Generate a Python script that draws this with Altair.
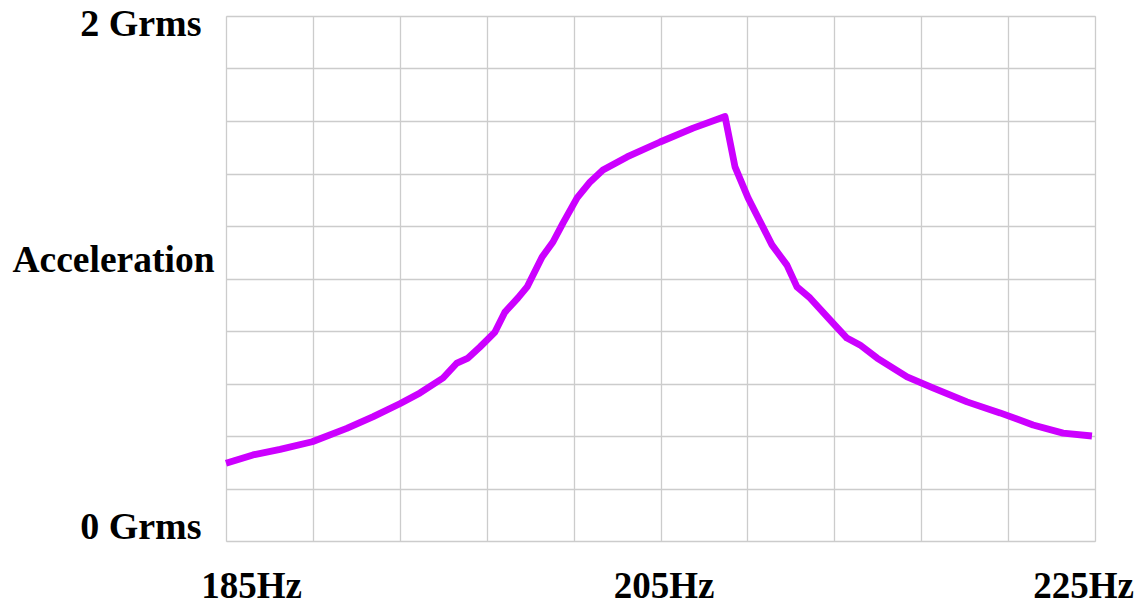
import altair as alt
import pandas as pd

# Frequency (Hz) and acceleration (Grms)
freq = [185.0, 186.24, 187.49, 188.97, 190.56, 191.78, 193.0, 193.93, 194.99,
        195.63, 196.14, 196.69, 197.38, 197.84, 198.44, 198.86, 199.55, 200.05,
        200.51, 201.16, 201.76, 202.35, 203.46, 204.98, 206.50, 207.97, 208.43,
        209.03, 210.13, 210.82, 211.28, 211.88, 212.94, 213.58, 214.18, 214.97,
        216.35, 217.54, 219.11, 220.63, 222.15, 223.53, 224.86]
accel = [0.296, 0.328, 0.349, 0.378, 0.429, 0.474, 0.523, 0.564, 0.621,
         0.678, 0.697, 0.739, 0.796, 0.872, 0.926, 0.968, 1.082, 1.139,
         1.211, 1.307, 1.368, 1.413, 1.463, 1.52, 1.573, 1.617, 1.425,
         1.307, 1.128, 1.051, 0.968, 0.926, 0.830, 0.773, 0.747, 0.697,
         0.625, 0.583, 0.530, 0.488, 0.442, 0.411, 0.40]

x_grid = [185, 189, 193, 197, 201, 205, 209, 213, 217, 221, 225]
y_grid = [0, 0.2, 0.4, 0.6, 0.8, 1.0, 1.2, 1.4, 1.6, 1.8, 2.0]
x_labels = {185: "185Hz", 205: "205Hz", 225: "225Hz"}
y_labels = {0: "0 Grms", 2: "2 Grms"}
y_title = "Acceleration"

df = pd.DataFrame({"freq": freq, "accel": accel})

x_expr = " : ".join(f"datum.value == {k} ? '{v}'" for k, v in x_labels.items()) + " : ''"
y_expr = " : ".join(f"datum.value == {k} ? '{v}'" for k, v in y_labels.items()) + " : ''"

FONT = "Liberation Serif"

chart = alt.Chart(df).mark_line(
    color="#CC00FF", strokeWidth=6.8, strokeJoin="round"
).encode(
    x=alt.X("freq:Q", scale=alt.Scale(domain=[185, 225], nice=False, zero=False),
            axis=alt.Axis(values=x_grid, labelExpr=x_expr, title=None,
                          grid=True, gridColor="#cccccc", gridWidth=1.3,
                          domain=False, ticks=False, tickSize=0,
                          labelFont=FONT, labelFontSize=37, labelFontWeight="bold",
                          labelColor="black", labelPadding=27,
                          labelOverlap=False, labelBound=False, labelFlush=False,
                          labelOffset={"condition": [
                              {"test": "datum.value == 185", "value": 25},
                              {"test": "datum.value == 225", "value": -12}],
                              "value": 3})),
    y=alt.Y("accel:Q", scale=alt.Scale(domain=[0, 2], nice=False),
            axis=alt.Axis(values=y_grid, labelExpr=y_expr, title=y_title,
                          grid=True, gridColor="#cccccc", gridWidth=1.3,
                          domain=False, ticks=False, tickSize=0,
                          labelFont=FONT, labelFontSize=38, labelFontWeight="bold",
                          labelColor="black", labelPadding=25,
                          labelBaseline="alphabetic",
                          labelOverlap=False, labelBound=False, labelFlush=False,
                          labelOffset={"condition": {"test": "datum.value == 2", "value": 19},
                                       "value": -3},
                          titleFont=FONT, titleFontSize=37.5, titleFontWeight="bold",
                          titleColor="black", titleAngle=0, titleAlign="left",
                          titleBaseline="alphabetic", titleX=-214, titleY=255)),
).properties(
    width=869, height=525,
    autosize=alt.AutoSizeParams(type="none"),
    padding={"left": 218, "top": 8, "right": 40, "bottom": 64},
).configure_view(stroke=None).configure(background="white")

chart.save("out.html", embed_options={"renderer": "svg", "actions": False})
